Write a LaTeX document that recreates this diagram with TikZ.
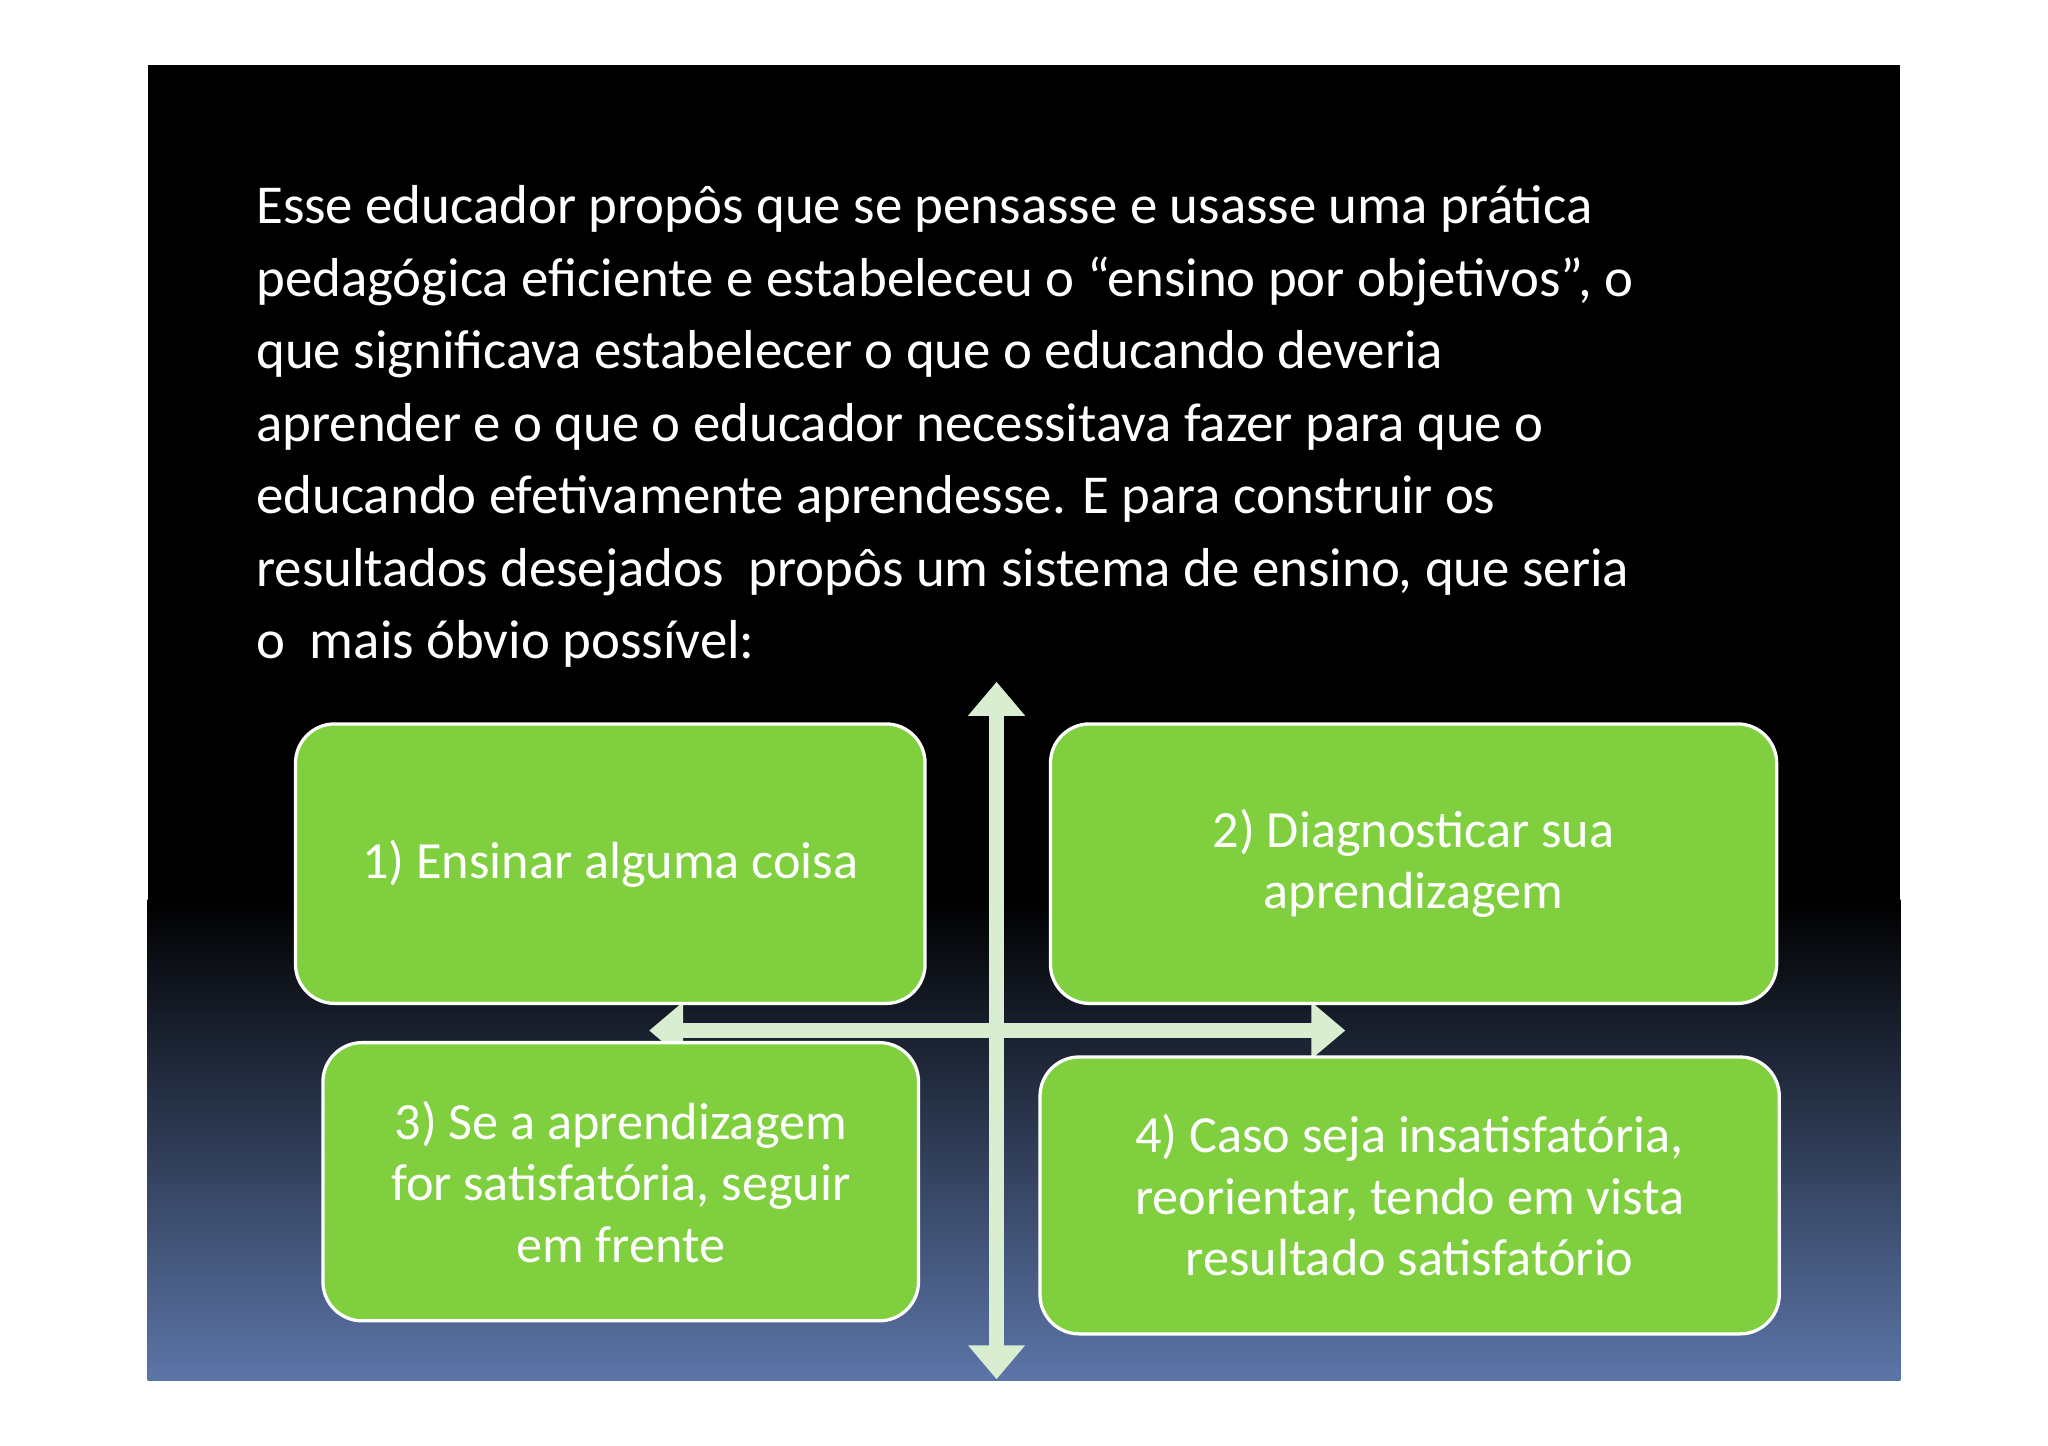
\documentclass[tikz,border=0pt]{standalone}
\usepackage{fontspec}
\setmainfont{Carlito}
\usetikzlibrary{arrows.meta}
\definecolor{boxg}{HTML}{7FCF3F}
\definecolor{arr}{HTML}{D9EED0}
\definecolor{bot}{HTML}{5C75A8}
\begin{document}
\begin{tikzpicture}[x=1pt,y=-1pt,
  gbox/.style={draw=white,line width=2.5pt,fill=boxg,rounded corners=30pt,text=white,font=\fontsize{40}{47}\selectfont,align=center,anchor=north west},
  darr/.style={arr,line width=11pt,{Triangle[length=26pt,width=42pt]}-{Triangle[length=26pt,width=42pt]}}]
\useasboundingbox (0,0) rectangle (1568,1107);
\fill[white] (0,0) rectangle (1568,1107);
\fill[black] (113,50) rectangle (1455,690);
\shade[top color=black,bottom color=bot] (113,689) rectangle (1455,1057);
\node[anchor=north west,text=white,align=left,font=\fontsize{42}{55.5}\selectfont,inner sep=0pt] (txt) at (196,142) {Esse educador propôs que se pensasse e usasse uma prática\\pedagógica eficiente e estabeleceu o “ensino por objetivos”, o\\que significava estabelecer o que o educando deveria\\aprender e o que o educador necessitava fazer para que o\\educando efetivamente aprendesse. E para construir os\\resultados desejados \ propôs um sistema de ensino, que seria\\o \ mais óbvio possível:};
\coordinate (vt) at (763,522);
\coordinate (vb) at (763,1056);
\coordinate (hl) at (497,789);
\coordinate (hr) at (1030,789);
\draw[darr] (hl) -- (hr);
\draw[darr] (vt) -- (vb);
\node[gbox,minimum width=482pt,minimum height=214pt] (b1) at (225,553) {1) Ensinar alguma coisa};
\node[gbox,minimum width=556pt,minimum height=214pt] (b2) at (803,553) {2) Diagnosticar sua\\aprendizagem};
\node[gbox,minimum width=456pt,minimum height=213pt] (b3) at (246,797) {3) Se a aprendizagem\\for satisfatória, seguir\\em frente};
\node[gbox,minimum width=566pt,minimum height=212pt] (b4) at (795,808) {4) Caso seja insatisfatória,\\reorientar, tendo em vista\\resultado satisfatório};
\end{tikzpicture}
\end{document}
